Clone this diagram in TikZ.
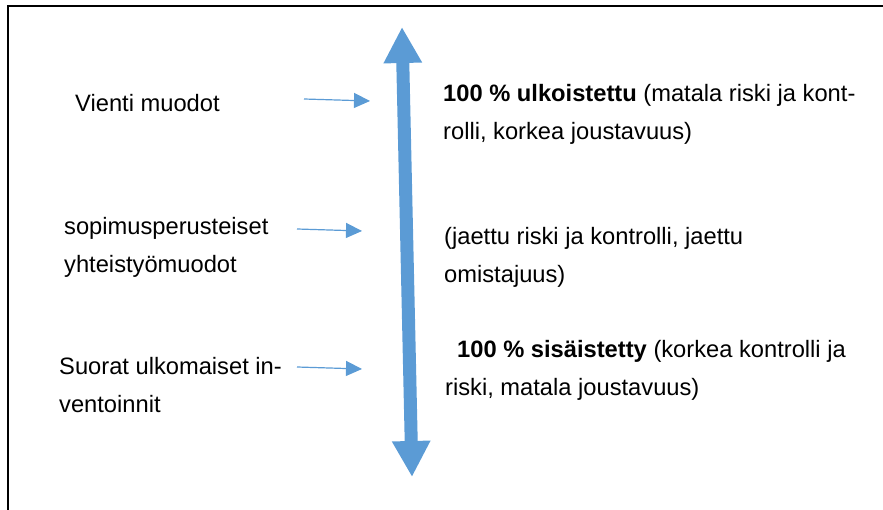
\documentclass[tikz,border=0pt]{standalone}
\usepackage{fontspec}
\setmainfont{Liberation Sans}
\usepackage{tikz}
\usetikzlibrary{arrows.meta}
\definecolor{pfeilblau}{HTML}{5B9BD5}

\begin{document}
\begin{tikzpicture}[
    x=1pt, y=-1pt, % Pixelraster der Vorlage
    font=\fontsize{23.7}{38}\selectfont,
    lbl/.style={anchor=base west, inner sep=0pt, align=left},
    zeiger/.style={pfeilblau, line width=1.2pt, -{Triangle[length=16pt, width=15pt]}},
    achse/.style={pfeilblau, line width=13pt,
        {Triangle[length=36pt, width=36pt]}-{Triangle[length=36pt, width=36pt]}}
    ]
    % --- Bildbereich ---
    \useasboundingbox (0,0) rectangle (883,510);
    \begin{scope}
        \clip (0,0) rectangle (883,510);
        \draw[line width=2pt] (8,530) -- (8,6) -- (900,6);
    \end{scope}

    % 1. grosser Doppelpfeil
    \coordinate (oben) at (402,27);
    \coordinate (unten) at (412,477);
    \draw[achse] (oben) -- (unten);

    % 2. linke Spalte (Ankerpunkt = Grundlinie der letzten Zeile)
    \node[lbl] (vienti) at (75,112) {Vienti muodot};
    \node[lbl] (sopimus) at (64,273) {sopimusperusteiset\\yhteistyömuodot};
    \node[lbl] (suorat) at (59,412) {Suorat ulkomaiset in-\\ventoinnit};

    % 3. kleine Pfeile
    \coordinate (s1) at (304,99);  \coordinate (z1) at (370,101);
    \coordinate (s2) at (297,229); \coordinate (z2) at (362,231);
    \coordinate (s3) at (297,367); \coordinate (z3) at (362,369);
    \foreach \i in {1,2,3} {
        \draw[zeiger] (s\i) -- (z\i);
    }

    % 4. rechte Spalte
    \node[lbl] (ulko) at (443,140)
        {\textbf{100 \% ulkoistettu} (matala riski ja kont-\\rolli, korkea joustavuus)};
    \node[lbl] (jaettu) at (444,283)
        {(jaettu riski ja kontrolli, jaettu\\omistajuus)};
    \node[lbl] (sisa) at (445,395)
        {\hspace*{12pt}\textbf{100 \% sisäistetty} (korkea kontrolli ja\\riski, matala joustavuus)};

\end{tikzpicture}
\end{document}
